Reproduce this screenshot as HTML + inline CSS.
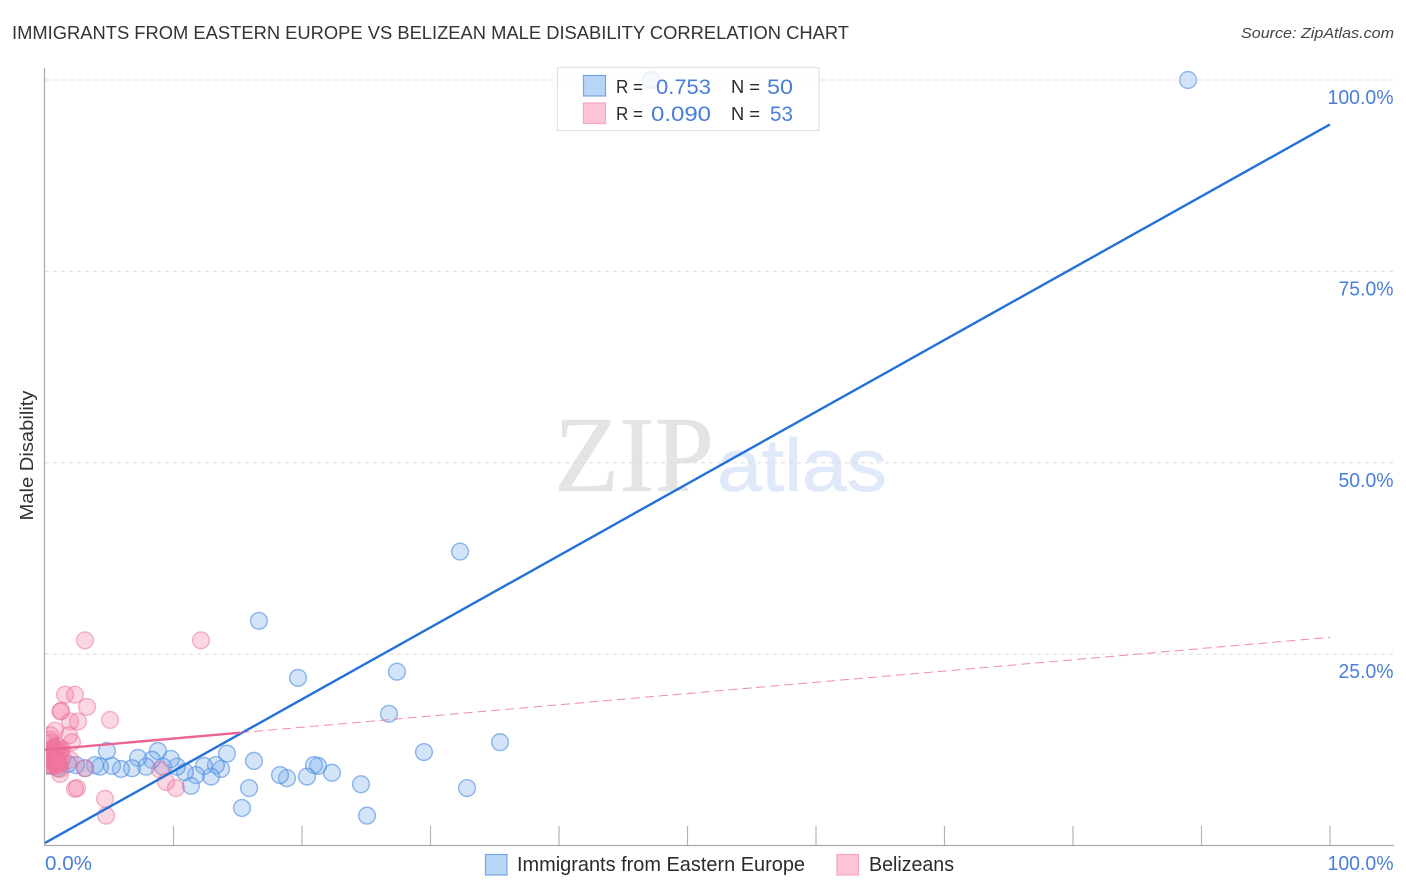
<!DOCTYPE html>
<html lang="en">
<head>
<meta charset="utf-8">
<title>Immigrants from Eastern Europe vs Belizean Male Disability Correlation Chart</title>
<style>
html,body{margin:0;padding:0;background:#fff;width:1406px;height:892px;overflow:hidden}
svg{display:block}
text{font-family:"Liberation Sans",sans-serif}
</style>
</head>
<body>
<svg id="chart" width="1406" height="892" viewBox="0 0 1406 892" xmlns="http://www.w3.org/2000/svg">
  <defs>
    <clipPath id="plot-clip"><rect x="46" y="60" width="1350" height="785"/></clipPath>
  </defs>
  <rect width="1406" height="892" fill="#fff"/>
  <text x="12" y="39" font-size="18.5" fill="#333" textLength="837" lengthAdjust="spacingAndGlyphs">IMMIGRANTS FROM EASTERN EUROPE VS BELIZEAN MALE DISABILITY CORRELATION CHART</text>
  <text x="1394" y="38" font-size="15" font-style="italic" fill="#444" text-anchor="end" textLength="153" lengthAdjust="spacingAndGlyphs">Source: ZipAtlas.com</text>
  <g>
    <text x="554" y="491" font-size="108" fill="#e4e4e4" stroke="#e4e4e4" stroke-width="0.6" style="font-family:'Liberation Serif',serif" textLength="160" lengthAdjust="spacingAndGlyphs">ZIP</text>
    <text x="717" y="491" font-size="74" fill="#dfe9fa" stroke="#dfe9fa" stroke-width="0.8" textLength="170" lengthAdjust="spacingAndGlyphs">atlas</text>
  </g>
  <g id="grid"></g>
  <g id="axes"></g>
  <g id="points" clip-path="url(#plot-clip)"></g>
  <g id="lines"></g>
  <g id="y-labels"></g>
  <g id="x-labels"></g>
  <text transform="translate(33,455.5) rotate(-90)" font-size="18.5" fill="#333" text-anchor="middle" textLength="130" lengthAdjust="spacingAndGlyphs">Male Disability</text>

  <g>
    <rect x="557.5" y="67.5" width="261.5" height="63" fill="#fff" fill-opacity="0.8" stroke="#e2e2e2" stroke-width="1.2"/>
    <rect x="583.5" y="75.5" width="22" height="20.5" fill="#b8d5f8" stroke="#74a4e2" stroke-width="1.2"/>
    <rect x="583.5" y="103" width="22" height="20.5" fill="#fdc5d7" stroke="#f3a8c0" stroke-width="1.2"/>
    <text x="616" y="93" font-size="18" fill="#2b2b2b" textLength="27" lengthAdjust="spacingAndGlyphs">R =</text>
    <text x="656" y="94" font-size="21" fill="#4a7edb" textLength="55" lengthAdjust="spacingAndGlyphs">0.753</text>
    <text x="731" y="93" font-size="18" fill="#2b2b2b" textLength="29" lengthAdjust="spacingAndGlyphs">N =</text>
    <text x="767" y="94" font-size="21" fill="#4a7edb" textLength="26" lengthAdjust="spacingAndGlyphs">50</text>
    <text x="616" y="120" font-size="18" fill="#2b2b2b" textLength="27" lengthAdjust="spacingAndGlyphs">R =</text>
    <text x="651" y="121" font-size="21" fill="#4a7edb" textLength="60" lengthAdjust="spacingAndGlyphs">0.090</text>
    <text x="731" y="120" font-size="18" fill="#2b2b2b" textLength="29" lengthAdjust="spacingAndGlyphs">N =</text>
    <text x="770" y="121" font-size="21" fill="#4a7edb" textLength="23" lengthAdjust="spacingAndGlyphs">53</text>
  </g>

  <g>
    <rect x="485.5" y="854.5" width="21.5" height="20.5" fill="#b8d5f8" stroke="#74a4e2" stroke-width="1.2"/>
    <text x="517" y="871" font-size="20" fill="#2b2b2b" textLength="288" lengthAdjust="spacingAndGlyphs">Immigrants from Eastern Europe</text>
    <rect x="837" y="854.5" width="21.5" height="20.5" fill="#fdc5d7" stroke="#f3a8c0" stroke-width="1.2"/>
    <text x="869" y="871" font-size="20" fill="#2b2b2b" textLength="85" lengthAdjust="spacingAndGlyphs">Belizeans</text>
  </g>
</svg>
<script>
// Chart data (percent values)
const yTickValues = [25, 50, 75, 100];
const yTickLabels = ["25.0%", "50.0%", "75.0%", "100.0%"];
const xTickValues = [10, 20, 30, 40, 50, 60, 70, 80, 90, 100];
const xEndLabels = ["0.0%", "100.0%"];

const immigrantsX = [47.16,88.95,32.3,16.65,19.69,27.39,26.77,29.49,35.41,32.84,25.06,24.59,22.33,21.25,20.93,20.39,18.83,18.29,16.26,15.88,15.33,14.16,13.7,13.3,12.92,12.37,11.75,11.36,10.89,10.27,9.8,9.18,8.79,8.33,7.86,7.24,6.77,5.91,5.21,4.82,4.28,3.89,3.11,2.41,1.79,0.78,0.54,1.01,0.39,0.23];
const immigrantsY = [100,100,38.4,29.35,21.9,22.7,17.2,12.2,13.5,7.5,3.9,8.0,9.5,10.4,10.5,9.0,8.8,9.2,11.05,7.5,4.9,12.0,10.0,10.5,9.0,10.4,9.2,7.8,9.6,10.3,11.3,10.3,12.35,11.2,10.3,11.45,10.1,10,10.4,12.35,10.3,10.5,10.1,10.5,10.65,11.2,12.2,10.1,11.45,10.4];

const belizeansX = [3.11,12.14,1.56,2.33,1.25,1.2,3.27,1.95,2.57,5.06,0.78,1.87,2.1,0.39,1.17,1.17,2.33,2.49,4.67,4.75,9.42,10.19,8.95,3.11,1.95,0.3,0.35,0.4,0.45,0.5,0.55,0.6,0.65,0.7,0.75,0.8,0.85,0.9,0.95,1,1.05,1.1,1.15,1.2,1.25,1.3,1.35,0.42,0.5,0.62,0.72,0.88,1.0];
const belizeansY = [26.8,26.8,19.7,19.7,17.6,17.5,18.1,16.2,16.2,16.4,15,14.4,13.5,13.8,9.35,10,7.4,7.5,6.1,3.9,8.3,7.5,9.9,10.1,11.2,10.6,11.4,12.4,13.4,11.0,10.5,12.0,11.6,12.9,10.7,12.6,11.3,10.4,12.2,11.7,12.9,10.6,11.9,12.4,11.0,12.6,11.5,14.4,10.4,11.9,12.7,11.2,10.9];

const immigrantsTrendX = [0, 100];
const immigrantsTrendY = [0.33, 94.2];
const belizeansTrendX = [0, 15.2, 100];
const belizeansTrendY = [12.5, 14.74, 27.2];

// Axis functions
function xScale(v) { return 45 + v * 12.85; }
function yScale(v) { return 845.5 - v * 7.655; }

const NS = "http://www.w3.org/2000/svg";
function mk(tag, parentId) {
  const el = document.createElementNS(NS, tag);
  document.getElementById(parentId).appendChild(el);
  return el;
}

// Gridlines
yTickValues.forEach(function (v) {
  const g = mk("line", "grid");
  
  
  g.setAttribute("x1", 45); g.setAttribute("x2", 1393);
  g.setAttribute("y1", yScale(v)); g.setAttribute("y2", yScale(v));
  g.setAttribute("stroke", "#dcdcdc");
  g.setAttribute("stroke-width", 1);
  g.setAttribute("stroke-dasharray", "4 4");
});

// Axes
const yAxis = mk("line", "axes");


yAxis.setAttribute("x1", 44.5); yAxis.setAttribute("x2", 44.5);
yAxis.setAttribute("y1", 68); yAxis.setAttribute("y2", 846);
yAxis.setAttribute("stroke", "#aaa"); yAxis.setAttribute("stroke-width", 1.2);

const xAxis = mk("line", "axes");


xAxis.setAttribute("x1", 44); xAxis.setAttribute("x2", 1394);
xAxis.setAttribute("y1", 845.5); xAxis.setAttribute("y2", 845.5);
xAxis.setAttribute("stroke", "#aaa"); xAxis.setAttribute("stroke-width", 1.2);

xTickValues.forEach(function (v) {
  const t = mk("line", "axes");
  
  
  t.setAttribute("x1", xScale(v)); t.setAttribute("x2", xScale(v));
  t.setAttribute("y1", 826); t.setAttribute("y2", 845);
  t.setAttribute("stroke", "#b4b4b4"); t.setAttribute("stroke-width", 1.2);
});

// Tick labels
yTickValues.forEach(function (v, i) {
  const t = mk("text", "y-labels");
  
  
  t.setAttribute("x", 1393.5);
  t.setAttribute("y", yScale(v) + 24);
  t.setAttribute("font-size", 20);
  t.setAttribute("fill", "#4a7edb");
  t.setAttribute("text-anchor", "end");
  t.setAttribute("textLength", v === 100 ? 66 : 55);
  t.setAttribute("lengthAdjust", "spacingAndGlyphs");
  t.textContent = yTickLabels[i];
});

const xStart = mk("text", "x-labels");


xStart.setAttribute("x", 45);
xStart.setAttribute("y", 870);
xStart.setAttribute("font-size", 20);
xStart.setAttribute("fill", "#4a7edb");
xStart.setAttribute("textLength", 47);
xStart.setAttribute("lengthAdjust", "spacingAndGlyphs");
xStart.textContent = xEndLabels[0];

const xEnd = mk("text", "x-labels");


xEnd.setAttribute("x", 1393.5);
xEnd.setAttribute("y", 870);
xEnd.setAttribute("font-size", 20);
xEnd.setAttribute("fill", "#4a7edb");
xEnd.setAttribute("text-anchor", "end");
xEnd.setAttribute("textLength", 66);
xEnd.setAttribute("lengthAdjust", "spacingAndGlyphs");
xEnd.textContent = xEndLabels[1];

// Scatter points
immigrantsX.forEach(function (v, i) {
  const c = mk("circle", "points");
  
  
  c.setAttribute("cx", xScale(v));
  c.setAttribute("cy", yScale(immigrantsY[i]));
  c.setAttribute("r", 8.4);
  c.setAttribute("fill", "#7fb0ee");
  c.setAttribute("fill-opacity", 0.34);
  c.setAttribute("stroke", "#4a8ae0");
  c.setAttribute("stroke-opacity", 0.6);
  c.setAttribute("stroke-width", 1.4);
});
belizeansX.forEach(function (v, i) {
  const c = mk("circle", "points");
  
  
  c.setAttribute("cx", xScale(v));
  c.setAttribute("cy", yScale(belizeansY[i]));
  c.setAttribute("r", 8.4);
  c.setAttribute("fill", "#f4789f");
  c.setAttribute("fill-opacity", 0.3);
  c.setAttribute("stroke", "#ea6f98");
  c.setAttribute("stroke-opacity", 0.5);
  c.setAttribute("stroke-width", 1.4);
});

// Trend lines
const blueLine = mk("line", "lines");


blueLine.setAttribute("x1", xScale(immigrantsTrendX[0]));
blueLine.setAttribute("y1", yScale(immigrantsTrendY[0]));
blueLine.setAttribute("x2", xScale(immigrantsTrendX[1]));
blueLine.setAttribute("y2", yScale(immigrantsTrendY[1]));
blueLine.setAttribute("stroke", "#2471d8");
blueLine.setAttribute("stroke-width", 2.4);

const pinkSolid = mk("line", "lines");


pinkSolid.setAttribute("x1", xScale(belizeansTrendX[0]));
pinkSolid.setAttribute("y1", yScale(belizeansTrendY[0]));
pinkSolid.setAttribute("x2", xScale(belizeansTrendX[1]));
pinkSolid.setAttribute("y2", yScale(belizeansTrendY[1]));
pinkSolid.setAttribute("stroke", "#ea6496");
pinkSolid.setAttribute("stroke-width", 2.4);

const pinkDash = mk("line", "lines");


pinkDash.setAttribute("x1", xScale(belizeansTrendX[1]));
pinkDash.setAttribute("y1", yScale(belizeansTrendY[1]));
pinkDash.setAttribute("x2", xScale(belizeansTrendX[2]));
pinkDash.setAttribute("y2", yScale(belizeansTrendY[2]));
pinkDash.setAttribute("stroke", "#ea6496");
pinkDash.setAttribute("stroke-width", 1);
pinkDash.setAttribute("stroke-opacity", 0.75);
pinkDash.setAttribute("stroke-dasharray", "9 5");
</script>
</body>
</html>
